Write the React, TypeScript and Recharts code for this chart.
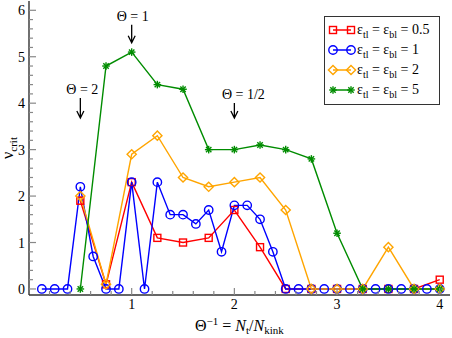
import { LineChart, Line, XAxis, YAxis, ReferenceDot, Legend } from 'recharts';

// x positions of the fine (blue) and coarse (other) series
const fineX = [
  0.125, 0.25, 0.375, 0.5, 0.625, 0.75, 0.875, 1.0,
  1.125, 1.25, 1.375, 1.5, 1.625, 1.75, 1.875, 2.0,
  2.125, 2.25, 2.375, 2.5, 2.625, 2.75, 2.875, 3.0,
  3.125, 3.25, 3.375, 3.5, 3.625, 3.75, 3.875, 4.0,
];
const coarseX = [0.5, 0.75, 1.0, 1.25, 1.5, 1.75, 2.0, 2.25, 2.5, 2.75, 3.0, 3.25, 3.5, 3.75, 4.0];

const eps1 = [
  0, 0, 0, 2.2, 0.7, 0, 0, 2.3,
  0, 2.3, 1.6, 1.6, 1.4, 1.7, 0.8, 1.8,
  1.8, 1.5, 0.8, 0, 0, 0, 0, 0,
  0, 0, 0, 0, 0, 0, 0, 0,
];
const eps05 = [1.9, 0.1, 2.3, 1.1, 1.0, 1.1, 1.7, 0.9, 0, 0, 0, 0, 0, 0, 0.2];
const eps2 = [2.0, 0.1, 2.9, 3.3, 2.4, 2.2, 2.3, 2.4, 1.7, 0, 0, 0, 0.9, 0, 0];
const eps5 = [0, 4.8, 5.1, 4.4, 4.3, 3.0, 3.0, 3.1, 3.0, 2.8, 1.2, 0, 0, 0, 0];

const xTicks = [
  0.2, 0.4, 0.6, 0.8, 1, 1.2, 1.4, 1.6, 1.8, 2, 2.2, 2.4, 2.6, 2.8, 3,
  3.2, 3.4, 3.6, 3.8, 4,
];
const yTicks = [
  0, 0.2, 0.4, 0.6, 0.8, 1, 1.2, 1.4, 1.6, 1.8, 2, 2.2, 2.4, 2.6, 2.8, 3,
  3.2, 3.4, 3.6, 3.8, 4, 4.2, 4.4, 4.6, 4.8, 5, 5.2, 5.4, 5.6, 5.8, 6,
];

// arrow annotations: label, x, y of arrow tip
const notes = [
  { label: 'Θ = 2', x: 0.5, y: 3.68, len: 20, dx: 2 },
  { label: 'Θ = 1', x: 1.0, y: 5.3, len: 18, dx: 1 },
  { label: 'Θ = 1/2', x: 2.0, y: 3.68, len: 15, dx: 9 },
];

const FONT = 'Liberation Serif, serif';
const FRAME = '#333';
const TICK = '#888';
const RED = '#ff0000';
const BLUE = '#0000ff';
const ORANGE = '#ffa500';
const GREEN = '#008c00';

const fineData = fineX.map((x, i) => ({ x, v: eps1[i] }));
const coarseData = coarseX.map((x, i) => ({ x, a: eps05[i], c: eps2[i], d: eps5[i] }));

const isMajor = (v: number) => Math.abs(v - Math.round(v)) < 1e-6;

// marker shapes
const square = (cx: number, cy: number, color: string) => (
  <rect x={cx - 3.5} y={cy - 3.5} width={7} height={7} fill="none" stroke={color} strokeWidth={1.4} />
);
const circle = (cx: number, cy: number, color: string) => (
  <circle cx={cx} cy={cy} r={4.2} fill="none" stroke={color} strokeWidth={1.4} />
);
const diamond = (cx: number, cy: number, color: string) => (
  <path d={`M${cx},${cy - 4.6}L${cx + 4.6},${cy}L${cx},${cy + 4.6}L${cx - 4.6},${cy}Z`} fill="none" stroke={color} strokeWidth={1.4} />
);
const star = (cx: number, cy: number, color: string) => (
  <g stroke={color} strokeWidth={1.4}>
    <line x1={cx - 3.8} y1={cy} x2={cx + 3.8} y2={cy} />
    <line x1={cx} y1={cy - 3.8} x2={cx} y2={cy + 3.8} />
    <line x1={cx - 2.7} y1={cy - 2.7} x2={cx + 2.7} y2={cy + 2.7} />
    <line x1={cx - 2.7} y1={cy + 2.7} x2={cx + 2.7} y2={cy - 2.7} />
  </g>
);

const series = [
  { key: 'a', color: RED, mark: square, value: '0.5' },
  { key: 'v', color: BLUE, mark: circle, value: '1' },
  { key: 'c', color: ORANGE, mark: diamond, value: '2' },
  { key: 'd', color: GREEN, mark: star, value: '5' },
];

const dotFor = (mark: typeof square, color: string, id: string) => (p: any) => (
  <g key={`${id}-${p.index}`}>{mark(p.cx, p.cy, color)}</g>
);

const BottomTick = (p: any) => {
  const major = isMajor(p.payload.value);
  return (
    <g>
      <line x1={p.x} x2={p.x} y1={p.y} y2={p.y - (major ? 7 : 4)} stroke={TICK} strokeWidth={1.2} />
      {major && (
        <text x={p.x} y={p.y + 14} textAnchor="middle" style={{ fontFamily: FONT, fontSize: 14 }} fill="#000">
          {Math.round(p.payload.value)}
        </text>
      )}
    </g>
  );
};
const TopTick = (p: any) => {
  const major = isMajor(p.payload.value);
  return <line x1={p.x} x2={p.x} y1={p.y} y2={p.y + (major ? 7 : 4)} stroke={TICK} strokeWidth={1.2} />;
};
const LeftTick = (p: any) => {
  const major = isMajor(p.payload.value);
  return (
    <g>
      <line x1={p.x} x2={p.x + (major ? 7 : 4)} y1={p.y} y2={p.y} stroke={TICK} strokeWidth={1.2} />
      {major && (
        <text x={p.x - 4} y={p.y + 5} textAnchor="end" style={{ fontFamily: FONT, fontSize: 14 }} fill="#000">
          {Math.round(p.payload.value)}
        </text>
      )}
    </g>
  );
};
const RightTick = (p: any) => {
  const major = isMajor(p.payload.value);
  return <line x1={p.x} x2={p.x - (major ? 7 : 4)} y1={p.y} y2={p.y} stroke={TICK} strokeWidth={1.2} />;
};

const noteShape = (n: (typeof notes)[number]) => (p: any) => (
  <g>
    <text x={p.cx + n.dx} y={p.cy - n.len - 4} textAnchor="middle" style={{ fontFamily: FONT, fontSize: 14 }} fill="#000">
      {n.label}
    </text>
    <path
      d={`M${p.cx},${p.cy - n.len}L${p.cx},${p.cy}M${p.cx - 3.5},${p.cy - 7}L${p.cx},${p.cy}L${p.cx + 3.5},${p.cy - 7}`}
      stroke="#000"
      strokeWidth={1.3}
      fill="none"
    />
  </g>
);

const sub = { fontSize: 10, position: 'relative' as const, top: 4 };

const LegendBox = () => (
  <div
    style={{
      border: `1px solid ${FRAME}`,
      background: '#fff',
      padding: '3px 0 4px 0',
      fontFamily: FONT,
      fontSize: 14,
      width: 114,
    }}
  >
    {series.map((s) => (
      <div key={s.key} style={{ display: 'flex', alignItems: 'center', height: 20 }}>
        <svg width={32} height={20} style={{ flex: 'none' }}>
          <line x1={8} x2={26} y1={10} y2={10} stroke={s.color} strokeWidth={1.5} />
          {s.mark(8, 10, s.color)}
          {s.mark(26, 10, s.color)}
        </svg>
        <span style={{ whiteSpace: 'nowrap', lineHeight: '14px' }}>
          ε<span style={sub}>tl</span> = ε<span style={sub}>bl</span> = {s.value}
        </span>
      </div>
    ))}
  </div>
);

export default function App() {
  return (
    <div style={{ position: 'relative', width: 452, height: 338, background: '#fff', fontFamily: FONT }}>
      <style>{'body{margin:0}'}</style>
      <LineChart width={452} height={338} margin={{ top: 1, right: 2, bottom: 0, left: 0 }} style={{ fontFamily: FONT }}>
        <XAxis
          xAxisId="b"
          dataKey="x"
          type="number"
          domain={[0, 4.1]}
          allowDataOverflow
          ticks={xTicks}
          interval={0}
          height={43}
          tickSize={0}
          tickMargin={0}
          tickLine={false}
          tick={<BottomTick />}
          axisLine={{ stroke: FRAME, strokeWidth: 1.4 }}
        />
        <XAxis
          xAxisId="t"
          orientation="top"
          dataKey="x"
          type="number"
          domain={[0, 4.1]}
          allowDataOverflow
          ticks={xTicks}
          interval={0}
          height={0}
          tickSize={0}
          tickMargin={0}
          tickLine={false}
          tick={<TopTick />}
          axisLine={{ stroke: FRAME, strokeWidth: 1.4 }}
        />
        <YAxis
          yAxisId="l"
          type="number"
          domain={[-0.13, 6.2]}
          allowDataOverflow
          ticks={yTicks}
          interval={0}
          width={29}
          tickSize={0}
          tickMargin={0}
          tickLine={false}
          tick={<LeftTick />}
          axisLine={{ stroke: FRAME, strokeWidth: 1.4 }}
        />
        <YAxis
          yAxisId="r"
          orientation="right"
          type="number"
          domain={[-0.13, 6.2]}
          allowDataOverflow
          ticks={yTicks}
          interval={0}
          width={0}
          tickSize={0}
          tickMargin={0}
          tickLine={false}
          tick={<RightTick />}
          axisLine={{ stroke: FRAME, strokeWidth: 1.4 }}
        />
        <Line xAxisId="b" yAxisId="l" data={coarseData} dataKey="a" stroke={RED} strokeWidth={1.4} dot={dotFor(square, RED, 'a')} isAnimationActive={false} />
        <Line xAxisId="b" yAxisId="l" data={fineData} dataKey="v" stroke={BLUE} strokeWidth={1.4} dot={dotFor(circle, BLUE, 'v')} isAnimationActive={false} />
        <Line xAxisId="b" yAxisId="l" data={coarseData} dataKey="c" stroke={ORANGE} strokeWidth={1.4} dot={dotFor(diamond, ORANGE, 'c')} isAnimationActive={false} />
        <Line xAxisId="b" yAxisId="l" data={coarseData} dataKey="d" stroke={GREEN} strokeWidth={1.4} dot={dotFor(star, GREEN, 'd')} isAnimationActive={false} />
        {notes.map((n) => (
          <ReferenceDot key={n.label} xAxisId="b" yAxisId="l" x={n.x} y={n.y} shape={noteShape(n)} />
        ))}
        <Legend
          layout="vertical"
          align="center"
          verticalAlign="middle"
          content={<LegendBox />}
          wrapperStyle={{ position: 'absolute', left: 324, top: 16, width: 116 }}
        />
      </LineChart>
      <div
        style={{
          position: 'absolute',
          left: 8,
          top: 148,
          transform: 'translate(-50%, -50%) rotate(-90deg)',
          fontSize: 16,
          whiteSpace: 'nowrap',
          lineHeight: '16px',
        }}
      >
        ν<span style={{ fontSize: 11, position: 'relative', top: 4 }}>crit</span>
      </div>
      <div
        style={{
          position: 'absolute',
          left: 195,
          top: 318,
          fontSize: 16,
          whiteSpace: 'nowrap',
          lineHeight: '16px',
        }}
      >
        Θ<span style={{ fontSize: 11, position: 'relative', top: -6 }}>−1</span> ={' '}
        <i>N</i>
        <span style={{ fontSize: 11, position: 'relative', top: 3 }}>t</span>/<i>N</i>
        <span style={{ fontSize: 11, position: 'relative', top: 3 }}>kink</span>
      </div>
    </div>
  );
}
